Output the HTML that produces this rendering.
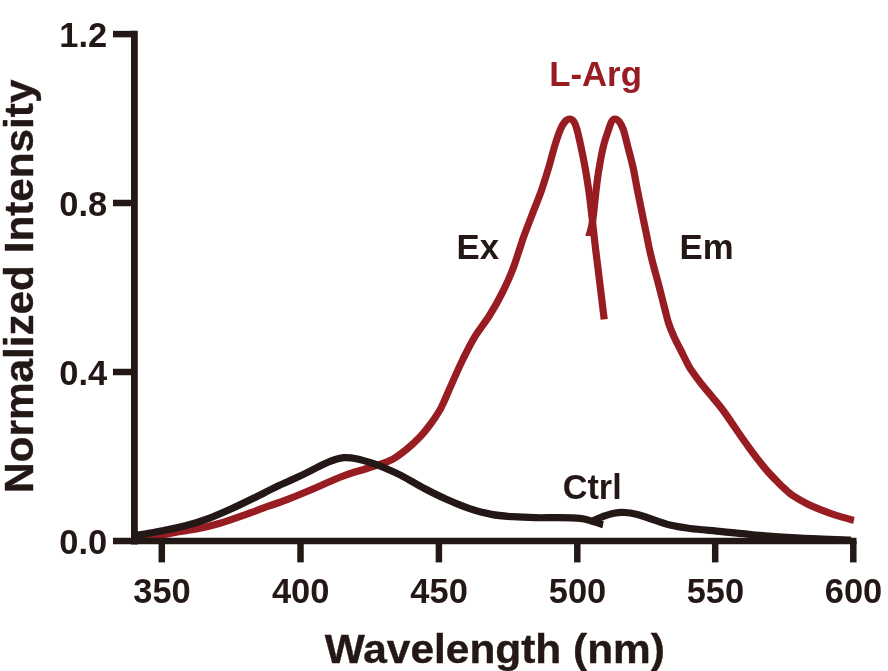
<!DOCTYPE html>
<html><head><meta charset="utf-8"><title>Spectra</title>
<style>html,body{margin:0;padding:0;background:#fff}body{width:888px;height:671px;overflow:hidden}</style></head>
<body>
<svg width="888" height="671" viewBox="0 0 888 671" style="display:block">
<rect width="888" height="671" fill="#fff"/>
<g fill="none" stroke-linejoin="round" stroke-width="7.2">
<path d="M135.0,540.0C137.9,539.5 145.8,538.1 152.5,536.8C159.2,535.5 167.5,533.7 175.0,532.4C182.5,531.1 190.1,530.3 197.6,528.8C205.1,527.3 212.5,525.5 220.0,523.3C227.5,521.1 235.1,518.4 242.6,515.7C250.1,513.1 257.5,510.1 265.0,507.4C272.5,504.7 280.2,502.2 287.7,499.3C295.2,496.4 302.9,493.2 310.0,490.2C317.1,487.2 324.2,484.0 330.0,481.5C335.8,479.0 338.7,477.5 345.0,475.3C351.3,473.1 360.1,470.6 367.6,468.2C375.1,465.8 383.6,463.7 390.0,460.6C396.4,457.5 401.0,453.6 405.9,449.8C410.8,446.0 415.3,441.9 419.4,437.6C423.5,433.3 427.2,428.5 430.6,424.0C434.0,419.5 437.2,414.5 439.6,410.5C442.0,406.5 442.6,404.6 444.7,400.0C446.8,395.4 449.3,389.3 452.3,382.6C455.3,375.9 458.9,367.5 462.6,360.0C466.3,352.5 469.8,345.1 474.3,337.6C478.8,330.1 485.1,322.5 489.8,315.0C494.5,307.5 498.6,300.0 502.4,292.5C506.2,285.0 509.7,277.1 512.5,270.0C515.3,262.9 517.3,255.8 519.3,250.0C521.3,244.2 522.0,241.2 524.3,235.0C526.6,228.8 530.0,220.1 532.9,212.6C535.8,205.1 539.0,197.5 541.6,190.0C544.2,182.5 546.5,175.1 548.7,167.6C550.9,160.1 553.0,151.4 555.0,145.0C557.0,138.6 558.8,133.2 560.5,129.3C562.2,125.4 563.6,123.2 565.1,121.5C566.6,119.8 568.2,119.0 569.6,119.0C571.0,119.0 572.6,119.8 573.8,121.5C575.0,123.2 575.8,125.4 576.9,129.3C578.0,133.2 579.2,138.6 580.6,145.0C582.0,151.4 583.8,160.1 585.1,167.6C586.5,175.1 587.6,182.5 588.7,190.0C589.8,197.5 590.6,205.1 591.5,212.6C592.4,220.1 593.3,228.8 594.0,235.0C594.7,241.2 595.1,244.6 595.7,250.0C596.4,255.4 596.5,256.0 597.9,267.6C599.3,279.2 603.2,310.8 604.2,319.4" stroke="#981d23"/>
<path d="M589.1,236.1L589.1,235.5C589.5,234.2 590.6,230.5 591.2,228.0C591.8,225.5 592.3,223.2 592.7,220.6C593.1,218.0 593.1,217.7 593.7,212.6C594.3,207.5 595.2,197.5 596.1,190.0C597.0,182.5 597.9,175.1 599.2,167.6C600.5,160.1 602.1,151.4 603.7,145.0C605.3,138.6 607.4,133.2 608.7,129.3C610.0,125.4 610.6,123.2 611.6,121.5C612.6,119.8 613.7,119.0 615.0,119.0C616.3,119.0 617.8,119.8 619.2,121.5C620.6,123.2 621.8,125.4 623.2,129.3C624.6,133.2 625.8,138.6 627.4,145.0C629.0,151.4 631.4,160.1 633.1,167.6C634.8,175.1 635.9,182.5 637.4,190.0C638.9,197.5 640.5,205.1 642.0,212.6C643.5,220.1 645.3,228.8 646.6,235.0C647.9,241.2 648.4,244.5 649.6,250.0C650.9,255.5 652.5,262.0 654.1,268.0C655.7,274.0 657.2,279.0 659.0,286.0C660.8,293.0 663.5,303.8 665.1,310.0C666.7,316.2 667.2,319.0 668.7,323.5C670.2,328.0 672.1,332.5 674.1,337.0C676.1,341.5 678.6,346.0 680.9,350.5C683.2,355.0 686.0,360.8 687.7,364.0C689.4,367.2 689.0,366.8 691.2,370.0C693.4,373.2 697.6,379.0 701.1,383.5C704.6,388.0 708.6,392.5 712.3,397.0C716.0,401.5 719.5,405.5 723.2,410.5C726.9,415.5 730.8,421.5 734.6,427.0C738.4,432.5 742.5,438.5 746.1,443.5C749.7,448.5 752.5,452.5 756.0,457.0C759.5,461.5 763.0,466.2 766.8,470.5C770.6,474.8 775.3,479.6 778.6,483.0C781.9,486.4 784.2,488.4 786.7,490.6C789.2,492.8 790.1,493.9 793.5,496.1C796.9,498.3 802.5,501.6 807.0,503.8C811.5,506.1 816.0,507.8 820.5,509.6C825.0,511.4 829.5,513.1 834.0,514.6C838.5,516.1 844.4,517.7 847.6,518.6C850.8,519.5 852.4,520.0 853.4,520.3L853.9,520.4" stroke="#981d23"/>
<path d="M134.5,535.6C135.1,535.5 135.3,535.4 137.9,535.0C140.5,534.6 145.7,533.8 150.0,533.0C154.3,532.2 157.8,531.8 163.8,530.5C169.9,529.2 178.8,527.5 186.3,525.5C193.8,523.5 201.3,521.2 208.8,518.4C216.3,515.6 223.9,512.2 231.4,508.8C238.9,505.4 246.4,501.8 253.9,498.1C261.4,494.4 268.9,490.4 276.4,486.8C283.9,483.2 291.2,480.3 298.9,476.6C306.6,472.9 317.3,467.3 322.5,464.8C327.7,462.3 327.6,462.4 330.0,461.4C332.4,460.4 334.7,459.5 337.0,458.9C339.3,458.3 341.7,457.8 344.0,457.6C346.3,457.4 348.6,457.6 351.0,457.9C353.4,458.2 355.8,458.6 358.6,459.3C361.4,460.0 364.6,460.9 368.0,461.9C371.4,462.9 373.2,463.2 378.8,465.5C384.4,467.8 393.9,471.8 401.4,475.6C408.9,479.4 416.4,484.4 423.9,488.3C431.4,492.2 438.9,496.0 446.4,499.3C453.9,502.6 461.4,505.8 468.9,508.3C476.4,510.8 484.1,513.0 491.4,514.4C498.7,515.8 505.2,516.2 512.5,516.7C519.8,517.2 527.5,517.5 535.0,517.7C542.5,517.9 550.1,517.6 557.6,517.7C565.1,517.8 574.4,517.9 580.0,518.4C585.6,518.9 587.6,520.0 591.4,521.0C595.2,522.0 600.7,523.9 602.6,524.5L603.1,524.6" stroke="#231815"/>
<path d="M593.6,520.6C595.1,519.9 599.2,517.8 602.6,516.6C606.0,515.4 610.2,513.9 613.9,513.2C617.6,512.5 621.2,512.3 625.0,512.5C628.8,512.7 632.6,513.4 636.4,514.3C640.2,515.2 642.1,515.9 647.7,517.7C653.3,519.5 663.0,523.3 670.0,525.1C677.0,526.9 681.4,527.4 690.0,528.5C698.6,529.6 710.9,530.5 721.8,531.6C732.7,532.7 742.5,533.9 755.6,535.0C768.7,536.1 784.7,537.3 800.6,538.1C816.5,538.9 842.6,539.7 851.0,540.0" stroke="#231815"/>
</g>
<g stroke="#231815" stroke-width="6.5" fill="none">
<path d="M134.4,30.700000000000003V544.4" stroke-width="6.8"/>
<path d="M113,541H856.5"/>
<path d="M113,372.0H134.4"/>
<path d="M113,203.0H134.4"/>
<path d="M113,34.1H134.4"/>
<path d="M161.8,541V562.4"/>
<path d="M300.5,541V562.4"/>
<path d="M438.9,541V562.4"/>
<path d="M577.3,541V562.4"/>
<path d="M715.2,541V562.4"/>
<path d="M853.3,541V562.4"/>
</g>
<g font-family="'Liberation Sans', sans-serif" font-weight="700" fill="#231815">
<text font-size="35.4" text-anchor="end" transform="translate(107.30,554.00) scale(0.974,1)">0.0</text>
<text font-size="35.4" text-anchor="end" transform="translate(107.30,385.00) scale(0.974,1)">0.4</text>
<text font-size="35.4" text-anchor="end" transform="translate(107.30,216.00) scale(0.974,1)">0.8</text>
<text font-size="35.4" text-anchor="end" transform="translate(107.30,47.10) scale(0.974,1)">1.2</text>
<text font-size="35.4" text-anchor="middle" transform="translate(162.00,602.80) scale(0.974,1)">350</text>
<text font-size="35.4" text-anchor="middle" transform="translate(300.70,602.80) scale(0.974,1)">400</text>
<text font-size="35.4" text-anchor="middle" transform="translate(439.10,602.80) scale(0.974,1)">450</text>
<text font-size="35.4" text-anchor="middle" transform="translate(577.50,602.80) scale(0.974,1)">500</text>
<text font-size="35.4" text-anchor="middle" transform="translate(715.40,602.80) scale(0.974,1)">550</text>
<text font-size="35.4" text-anchor="middle" transform="translate(853.50,602.80) scale(0.974,1)">600</text>
<text font-size="35.4" text-anchor="start" transform="translate(456.60,259.30) scale(0.982,1)">Ex</text>
<text font-size="35.4" text-anchor="start" transform="translate(679.60,259.30) scale(0.982,1)">Em</text>
<text font-size="35.3" text-anchor="start" transform="translate(562.70,499.30) scale(0.97,1)">Ctrl</text>
<text font-size="35.5" text-anchor="start" transform="translate(549.20,85.80) scale(0.98,1)" fill="#981d23">L-Arg</text>
<text font-size="41.5" text-anchor="start" transform="translate(324.70,662.60) scale(1.0227,1)" stroke="#231815" stroke-width="0.4" stroke-linejoin="round">Wavelength (nm)</text>
<text font-size="40" text-anchor="start" transform="translate(33.20,492.90) rotate(-90) scale(1.057,1)" stroke="#231815" stroke-width="0.4" stroke-linejoin="round">Normalized Intensity</text>
</g>
</svg>
</body></html>
